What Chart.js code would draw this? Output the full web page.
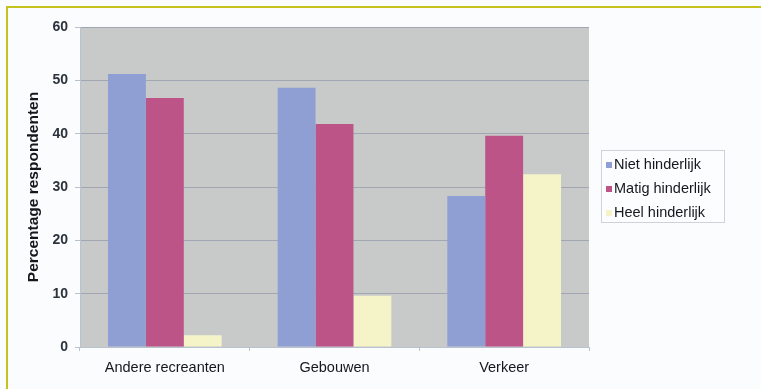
<!DOCTYPE html>
<html>
<head>
<meta charset="utf-8">
<script src="https://cdn.jsdelivr.net/npm/chart.js@4/dist/chart.umd.min.js"></script>
<style>
    html, body { margin: 0; padding: 0; background: #fafcfd; }
    #wrap { width: 761px; height: 389px; }
</style>
</head>
<body>
<div id="wrap"><canvas id="grafico"></canvas></div>
<script>
// Hinder door andere recreanten, gebouwen en verkeer
const categorieen = ['Andere recreanten', 'Gebouwen', 'Verkeer'];
const nietHinderlijk = [51.2, 48.6, 28.3];
const matigHinderlijk = [46.7, 41.8, 39.6];
const heelHinderlijk = [2.2, 9.6, 32.4];
const yTicks = [0, 10, 20, 30, 40, 50, 60];

const kleuren = ['#8f9fd3', '#bd5487', '#f4f4c8'];

// achtergrond, grijs plotvlak en gele rand
const achtergrond = {
    id: 'achtergrond',
    beforeDraw(chart) {
        const { ctx, chartArea: a } = chart;
        ctx.save();
        ctx.fillStyle = '#fafcfd';
        ctx.fillRect(0, 0, chart.width, chart.height);
        ctx.fillStyle = '#c8c9c9';
        ctx.fillRect(a.left, a.top, a.right - a.left, a.bottom - a.top);
        ctx.strokeStyle = '#c6c21e';
        ctx.lineWidth = 2;
        ctx.beginPath();
        ctx.moveTo(7, chart.height);
        ctx.lineTo(7, 7);
        ctx.lineTo(chart.width, 7);
        ctx.stroke();
        ctx.restore();
    }
};

// legenda in een kader rechts van het plotvlak
const legenda = {
    id: 'legenda',
    afterDraw(chart) {
        const { ctx } = chart;
        const x = 601, y = 150, w = 123, h = 72;
        ctx.save();
        ctx.fillStyle = '#fcfdfe';
        ctx.fillRect(x, y, w, h);
        ctx.strokeStyle = '#cfd3d8';
        ctx.lineWidth = 1;
        ctx.strokeRect(x + 0.5, y + 0.5, w, h);
        ctx.font = '14.5px "Liberation Sans", Arial, sans-serif';
        ctx.textBaseline = 'middle';
        chart.data.datasets.forEach((ds, i) => {
            const cy = y + 15 + i * 24;
            ctx.fillStyle = ds.backgroundColor;
            ctx.fillRect(x + 5, cy - 3, 6, 6);
            ctx.fillStyle = '#14181c';
            ctx.fillText(ds.label, x + 13, cy);
        });
        ctx.restore();
    }
};

const ctx = document.getElementById('grafico').getContext('2d');
new Chart(ctx, {
    type: 'bar',
    data: {
        labels: categorieen,
        datasets: [
            { label: 'Niet hinderlijk', data: nietHinderlijk, backgroundColor: kleuren[0] },
            { label: 'Matig hinderlijk', data: matigHinderlijk, backgroundColor: kleuren[1] },
            { label: 'Heel hinderlijk', data: heelHinderlijk, backgroundColor: kleuren[2] }
        ]
    },
    options: {
        responsive: true,
        maintainAspectRatio: false,
        animation: false,
        devicePixelRatio: 1,
        layout: { padding: { left: 24, right: 172, top: 27, bottom: 0 } },
        datasets: { bar: { barPercentage: 1, categoryPercentage: 0.67 } },
        plugins: {
            legend: { display: false },
            tooltip: { enabled: false }
        },
        scales: {
            y: {
                min: 0,
                max: 60,
                afterFit(s) { s.width = 56; },
                afterBuildTicks(s) { s.ticks = yTicks.map(v => ({ value: v })); },
                grid: { color: '#a0a7b2', tickLength: 5, tickColor: '#b8c2d0' },
                border: { color: '#b8c2d0' },
                ticks: {
                    padding: 7,
                    color: '#2c333c',
                    font: { family: '"Liberation Sans", Arial, sans-serif', size: 14, weight: 'bold' }
                },
                title: {
                    display: true,
                    text: 'Percentage respondenten',
                    color: '#14181c',
                    padding: 0,
                    font: { family: '"Liberation Sans", Arial, sans-serif', size: 15.5, weight: 'bold' }
                }
            },
            x: {
                afterFit(s) { s.height = 42; },
                grid: { drawOnChartArea: false, tickLength: 4, tickColor: '#b8c2d0', offset: true },
                border: { color: '#b8c2d0' },
                ticks: {
                    padding: 8,
                    color: '#14181c',
                    font: { family: '"Liberation Sans", Arial, sans-serif', size: 14.5 }
                }
            }
        }
    },
    plugins: [achtergrond, legenda]
});
</script>
</body>
</html>
